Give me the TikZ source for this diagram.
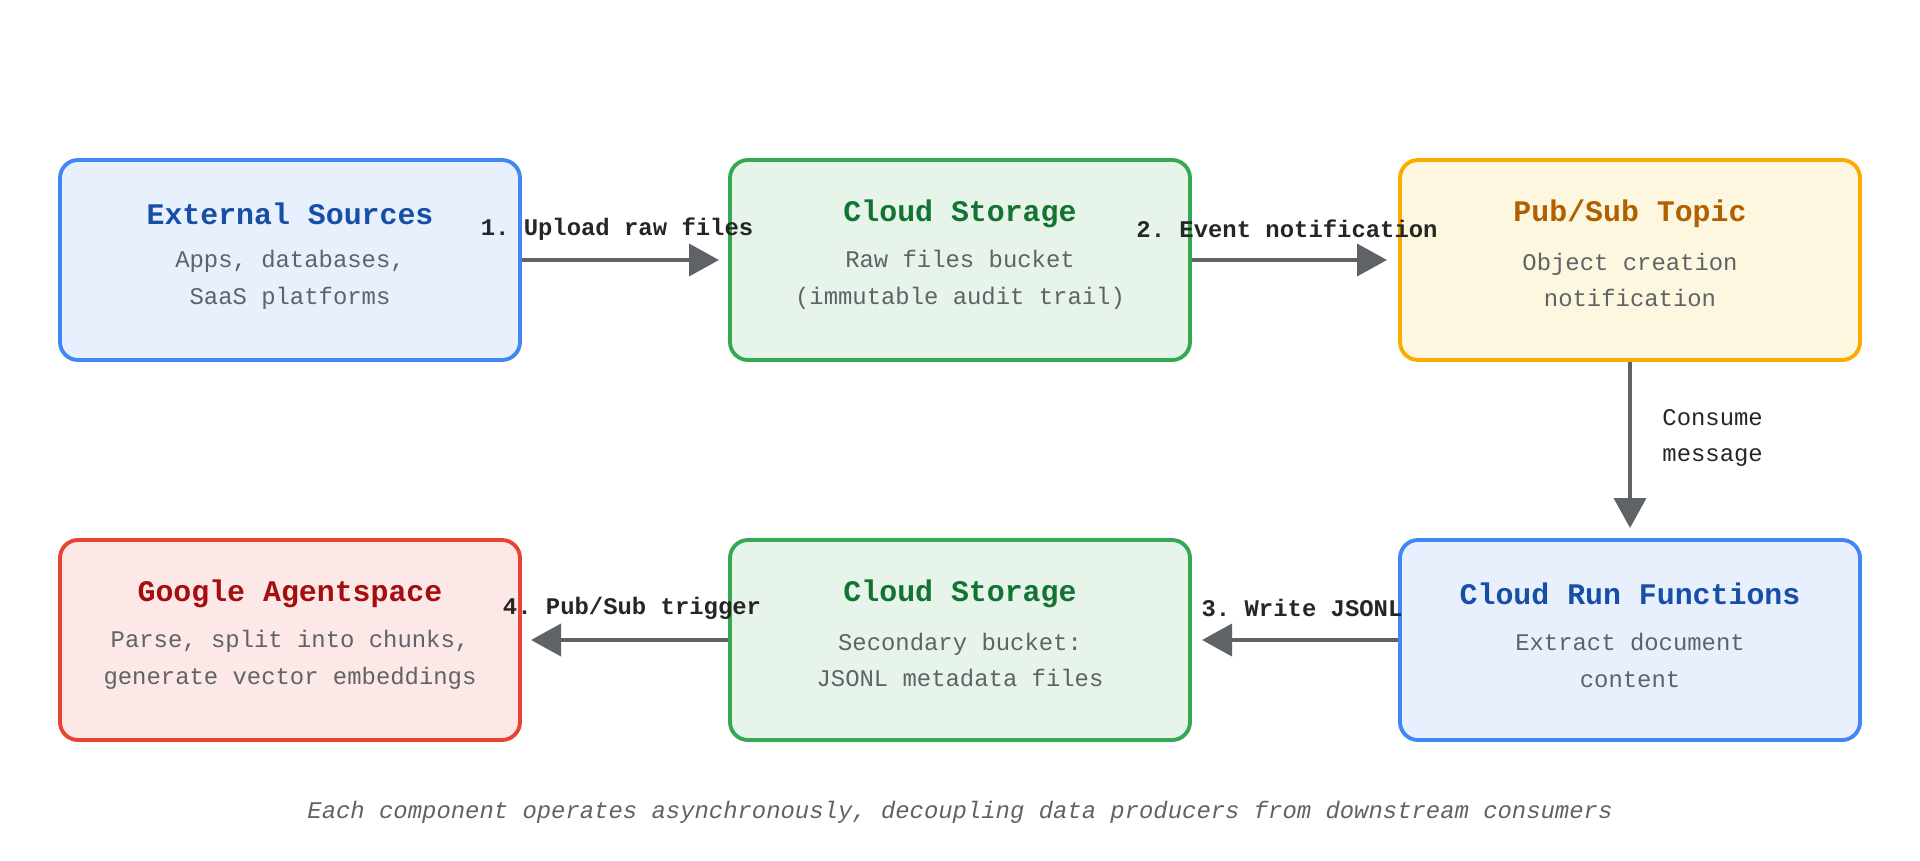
\documentclass[tikz,border=0pt]{standalone}
\usepackage{fontspec}
\setmonofont{Liberation Mono}
\usetikzlibrary{arrows.meta,positioning}
\definecolor{bluebd}{HTML}{4285F4}\definecolor{bluefl}{HTML}{E8F0FE}\definecolor{bluetx}{HTML}{174EA6}
\definecolor{greenbd}{HTML}{34A853}\definecolor{greenfl}{HTML}{E6F4EA}\definecolor{greentx}{HTML}{137333}
\definecolor{yellowbd}{HTML}{F9AB00}\definecolor{yellowfl}{HTML}{FEF7E0}\definecolor{yellowtx}{HTML}{B06000}
\definecolor{redbd}{HTML}{EA4335}\definecolor{redfl}{HTML}{FCE8E6}\definecolor{redtx}{HTML}{A50E0E}
\definecolor{greytx}{HTML}{5F6368}
\tikzset{
  box/.style={draw=#1bd,fill=#1fl,line width=1.1pt,rounded corners=0.18cm,minimum width=4.6cm,minimum height=2cm},
  ttl/.style={font=\ttfamily\bfseries\fontsize{8.5}{10}\selectfont,text=#1tx},
  sub/.style={font=\ttfamily\fontsize{6.8}{10.5}\selectfont,text=greytx,align=center},
  flow/.style={draw=greytx,line width=1.1pt,-{Triangle[length=0.3cm,width=0.32cm]}},
  lbl/.style={font=\ttfamily\bfseries\fontsize{6.8}{8}\selectfont,text=black!85}
}
\begin{document}
\begin{tikzpicture}
\useasboundingbox (0,0) rectangle (19.2,-8.6);
% boxes
\node[box=blue] (ext) at (2.9,-2.6) {};
\node[box=green] (raw) at (9.6,-2.6) {};
\node[box=yellow] (pub) at (16.3,-2.6) {};
\node[box=blue] (run) at (16.3,-6.4) {};
\node[box=green] (sec) at (9.6,-6.4) {};
\node[box=red] (agt) at (2.9,-6.4) {};
% texts
\node[ttl=blue] at ([yshift=0.46cm]ext.center) {External Sources};
\node[sub] at ([yshift=-0.2cm]ext.center) {Apps, databases,\\SaaS platforms};
\node[ttl=green] at ([yshift=0.46cm]raw.center) {Cloud Storage};
\node[sub] at ([yshift=-0.2cm]raw.center) {Raw files bucket\\(immutable audit trail)};
\node[ttl=yellow] at ([yshift=0.46cm]pub.center) {Pub/Sub Topic};
\node[sub] at ([yshift=-0.2cm]pub.center) {Object creation\\notification};
\node[ttl=blue] at ([yshift=0.46cm]run.center) {Cloud Run Functions};
\node[sub] at ([yshift=-0.2cm]run.center) {Extract document\\content};
\node[ttl=green] at ([yshift=0.46cm]sec.center) {Cloud Storage};
\node[sub] at ([yshift=-0.2cm]sec.center) {Secondary bucket:\\JSONL metadata files};
\node[ttl=red] at ([yshift=0.46cm]agt.center) {Google Agentspace};
\node[sub] at ([yshift=-0.2cm]agt.center) {Parse, split into chunks,\\generate vector embeddings};
% connectors
\coordinate (a1) at (7.19,-2.6);
\coordinate (a2) at (13.87,-2.6);
\coordinate (a3) at (16.3,-5.28);
\coordinate (a4) at (12.02,-6.4);
\coordinate (a5) at (5.31,-6.4);
\draw[flow] (ext) -- (a1);
\draw[flow] (raw) -- (a2);
\draw[flow] (pub) -- (a3);
\draw[flow] (run) -- (a4);
\draw[flow] (sec) -- (a5);
\node[lbl] (l1) at (6.17,-2.29) {1. Upload raw files};
\node[lbl] (l2) at (12.87,-2.29) {2. Event notification};
\node[lbl,align=left,anchor=west,font=\ttfamily\fontsize{6.8}{10.5}\selectfont] (l3) at (16.5,-4.38) {Consume\\message};
\node[lbl] (l4) at (13.02,-6.08) {3. Write JSONL};
\node[lbl] (l5) at (6.32,-6.08) {4. Pub/Sub trigger};
% caption
\node[font=\ttfamily\itshape\fontsize{6.8}{8}\selectfont,text=greytx] (cap) at (9.6,-8.12) {Each component operates asynchronously, decoupling data producers from downstream consumers};
\end{tikzpicture}
\end{document}
